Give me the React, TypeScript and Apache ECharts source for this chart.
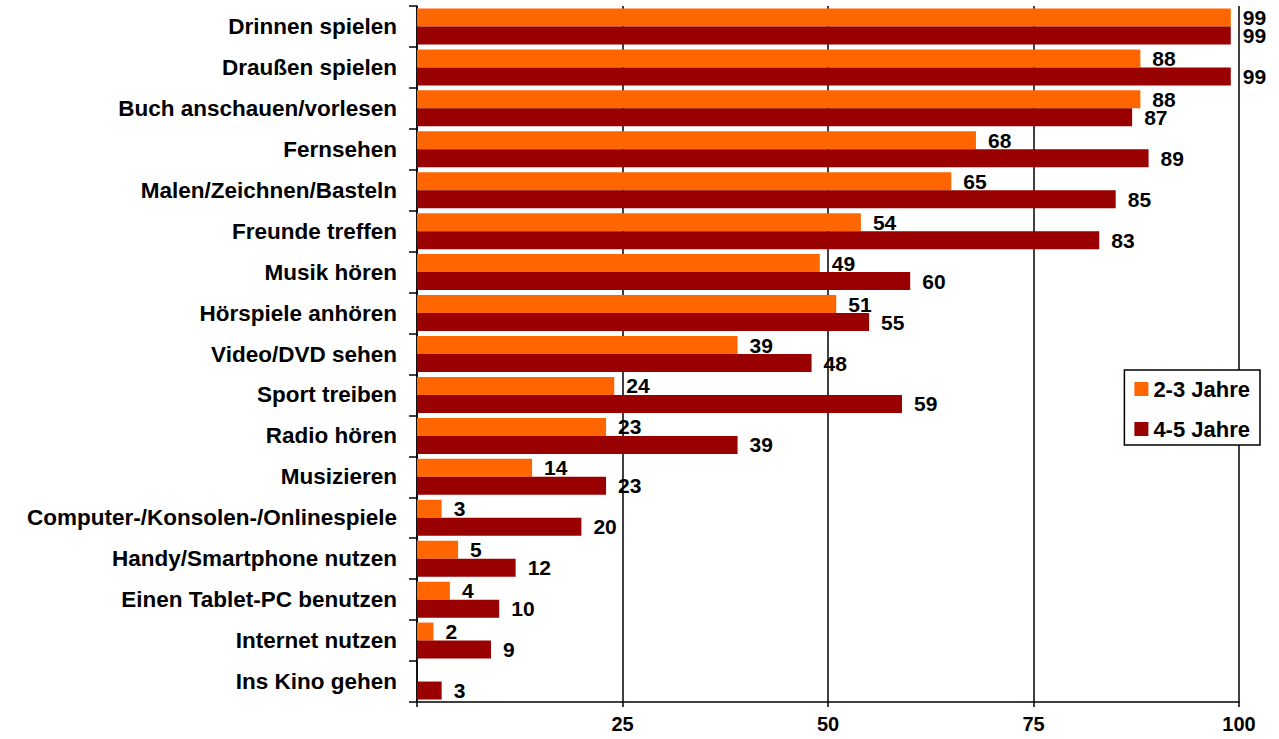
import React, { useEffect, useRef } from "react";
import * as echarts from "echarts";

const categories = [
  "Drinnen spielen",
  "Draußen spielen",
  "Buch anschauen/vorlesen",
  "Fernsehen",
  "Malen/Zeichnen/Basteln",
  "Freunde treffen",
  "Musik hören",
  "Hörspiele anhören",
  "Video/DVD sehen",
  "Sport treiben",
  "Radio hören",
  "Musizieren",
  "Computer-/Konsolen-/Onlinespiele",
  "Handy/Smartphone nutzen",
  "Einen Tablet-PC benutzen",
  "Internet nutzen",
  "Ins Kino gehen",
];

const age23: (number | null)[] = [99, 88, 88, 68, 65, 54, 49, 51, 39, 24, 23, 14, 3, 5, 4, 2, null];
const age45: number[] = [99, 99, 87, 89, 85, 83, 60, 55, 48, 59, 39, 23, 20, 12, 10, 9, 3];

const seriesNames = ["2-3 Jahre", "4-5 Jahre"];
const xTicks = [0, 25, 50, 75, 100];

const FONT = "'Liberation Sans', Arial, sans-serif";

export default function App() {
  const ref = useRef<HTMLDivElement>(null);

  useEffect(() => {
    document.body.style.margin = "0";
    if (!ref.current) return;
    const chart = echarts.init(ref.current, null, { renderer: "svg" });
    const labelStyle = {
      show: true,
      position: "right" as const,
      distance: 12,
      color: "#000",
      fontFamily: FONT,
      fontWeight: "bold" as const,
      fontSize: 21,
    };
    chart.setOption({
      animation: false,
      backgroundColor: "#fff",
      grid: { left: 417, right: 40, top: 6, bottom: 37, containLabel: false },
      legend: {
        orient: "vertical",
        right: 19,
        top: 370,
        data: seriesNames,
        itemWidth: 14,
        itemHeight: 14,
        itemGap: 18,
        padding: [8, 10, 5, 10],
        backgroundColor: "#fff",
        borderColor: "#000",
        borderWidth: 1.5,
        borderRadius: 0,
        icon: "rect",
        textStyle: {
          color: "#000",
          fontFamily: FONT,
          fontWeight: "bold",
          fontSize: 22,
          lineHeight: 22,
        },
      },
      xAxis: {
        type: "value",
        min: xTicks[0],
        max: xTicks[xTicks.length - 1],
        interval: xTicks[1] - xTicks[0],
        axisLine: { show: true, lineStyle: { color: "#000", width: 1.5 } },
        axisTick: { show: true, length: 5, lineStyle: { color: "#000", width: 1.5 } },
        splitLine: { show: true, lineStyle: { color: "#000", width: 1.5 } },
        axisLabel: {
          color: "#000",
          fontFamily: FONT,
          fontWeight: "bold",
          fontSize: 20,
          margin: 12,
          formatter: (v: number) => (v === 0 ? "" : String(v)),
        },
      },
      yAxis: {
        type: "category",
        data: categories,
        inverse: true,
        axisLine: { show: true, lineStyle: { color: "#000", width: 1.5 } },
        axisTick: { show: true, length: 8, lineStyle: { color: "#000", width: 1.5 } },
        axisLabel: {
          color: "#000",
          fontFamily: FONT,
          fontWeight: "bold",
          fontSize: 22.5,
          margin: 20,
        },
      },
      series: [
        {
          name: seriesNames[0],
          type: "bar",
          data: age23,
          barWidth: 18,
          barGap: "0%",
          itemStyle: { color: "#FF6600" },
          label: labelStyle,
        },
        {
          name: seriesNames[1],
          type: "bar",
          data: age45,
          barWidth: 18,
          barGap: "0%",
          itemStyle: { color: "#990000" },
          label: labelStyle,
        },
      ],
    });
    return () => chart.dispose();
  }, []);

  return <div ref={ref} style={{ position: "absolute", left: 0, top: 0, width: 1279, height: 739 }} />;
}
